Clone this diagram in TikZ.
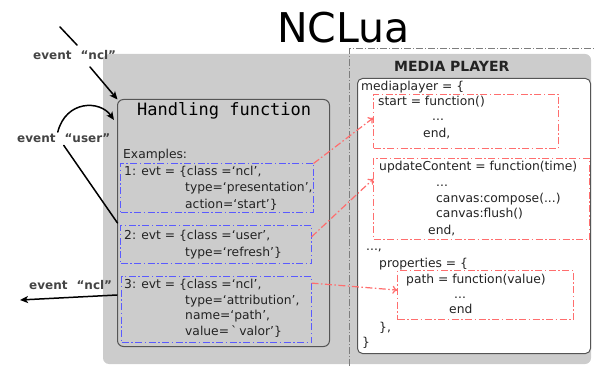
\documentclass[tikz,border=0pt]{standalone}
\usepackage{fontspec}
\setmainfont{DejaVu Sans}
\setmonofont{DejaVu Sans Mono}
\usetikzlibrary{
arrows.meta,
calc,
}

\definecolor{bggray}{RGB}{204,204,204}
\definecolor{framegray}{RGB}{125,125,125}
\definecolor{boxgray}{RGB}{85,85,85}
\definecolor{exblue}{RGB}{90,90,255}
\definecolor{fnred}{RGB}{255,110,110}
\definecolor{codegray}{RGB}{35,35,35}

\tikzset{
  code/.style={anchor=base west, inner sep=0pt, text=codegray, font=\fontsize{12.3}{15}\selectfont},
  evt/.style={anchor=base west, inner sep=2pt, text=codegray!85, font=\bfseries\fontsize{12}{15}\selectfont},
  dashdot/.style={line width=1.5pt, dash pattern=on 7pt off 2.5pt on 1.5pt off 2.5pt},
  exbox/.style={draw=exblue, dashdot, anchor=north west, inner sep=0pt, outer sep=0pt},
  fnbox/.style={draw=fnred, dashdot, anchor=north west, inner sep=0pt, outer sep=0pt},
  link/.style={-{To[length=5pt,width=8pt]}, fnred, dashdot, line width=1.2pt},
  evtline/.style={black, line width=1.5pt, line cap=round},
  evtarrow/.style={evtline, -{Stealth[length=8pt,width=7pt,inset=2pt]}},
}

\begin{document}
\begin{tikzpicture}[x=1pt, y=-1pt]
			\useasboundingbox (0,0) rectangle (594,366);

			% Define coordinates
			\coordinate (nclsrc) at (60,27);
			\coordinate (ncltop) at (77,45);
			\coordinate (nclbot) at (90,67);
			\coordinate (userin) at (114,120);
			\coordinate (nclout) at (117,295);
			\coordinate (nclend) at (20,300);

			% Gray area and the dashed frame of the player
			\fill[bggray, rounded corners=6pt] (103,54) rectangle (591,364);
			\draw[framegray, line width=0.7pt, dash pattern=on 7pt off 2pt on 1pt off 2pt]
				(349.5,366) -- (349.5,48.5) -- (594,48.5);

			\node[font=\fontsize{41}{41}\selectfont, anchor=base west, inner sep=0pt] (title) at (277,43) {NCLua};

			% Handling function
			\node[draw=boxgray, fill=bggray, line width=1pt, rounded corners=6pt, anchor=north west,
				minimum width=212pt, minimum height=247pt, inner sep=0pt, outer sep=0pt] (hf) at (117.5,99.5) {};
			\node[anchor=base west, inner sep=0pt, font=\ttfamily\fontsize{17}{17}\selectfont] (hftitle) at (137,116) {Handling function};
			\node[code] (exhead) at (123,159) {Examples:};

			\node[exbox, minimum width=193pt, minimum height=49pt] (ex1) at (120.5,163.5) {};
			\node[exbox, minimum width=191pt, minimum height=38pt] (ex2) at (120.5,225.5) {};
			\node[exbox, minimum width=190pt, minimum height=66pt] (ex3) at (121.5,276.5) {};

			\node[code] (e1a) at (124,176) {1: evt = \{class =‘ncl’,};
			\node[code] (e1b) at (185,192) {type=‘presentation’,};
			\node[code] (e1c) at (185,208) {action=‘start’\}};
			\node[code] (e2a) at (124,240) {2: evt = \{class =‘user’,};
			\node[code] (e2b) at (185,256) {type=‘refresh’\}};
			\node[code] (e3a) at (124,288) {3: evt = \{class =‘ncl’,};
			\node[code] (e3b) at (185,304) {type=‘attribution’,};
			\node[code] (e3c) at (185,319) {name=‘path’,};
			\node[code] (e3d) at (185,335) {value=\,\textasciigrave\,valor’\}};

			% Media player
			\node[font=\bfseries\fontsize{14}{15}\selectfont, anchor=base west, inner sep=0pt, text=codegray] (mptitle) at (394,72) {MEDIA PLAYER};
			\node[draw=boxgray, fill=white, line width=1pt, rounded corners=5pt, anchor=north west,
				minimum width=233pt, minimum height=275pt, inner sep=0pt, outer sep=0pt] (mp) at (357.5,78.5) {};

			\node[fnbox, minimum width=185pt, minimum height=54pt] (st) at (373.5,94.5) {};
			\node[fnbox, minimum width=216pt, minimum height=81pt] (uc) at (373.5,158.5) {};
			\node[fnbox, minimum width=176pt, minimum height=49pt] (pv) at (397.5,270.5) {};

			\node[code] (mp0) at (361,91) {mediaplayer = \{};
			\node[code] (st1) at (378,106) {start = function()};
			\node[code] (st2) at (432,121) {...};
			\node[code] (st3) at (423,138) {end,};
			\node[code] (uc1) at (379,171) {updateContent = function(time)};
			\node[code] (uc2) at (436,187) {...};
			\node[code] (uc3) at (436,203) {canvas:compose(...)};
			\node[code] (uc4) at (436,218) {canvas:flush()};
			\node[code] (uc5) at (428,234) {end,};
			\node[code] (mp1) at (366,250) {...,};
			\node[code] (pr0) at (379,267) {properties = \{};
			\node[code] (pv1) at (406,283) {path = function(value)};
			\node[code] (pv2) at (454,298) {...};
			\node[code] (pv3) at (449,313) {end};
			\node[code] (pr1) at (379,331) {\},};
			\node[code] (mp2) at (362,346) {\}};

			% Events in and out
			\node[evt] (evtnclin) at (31,60) {event\hspace{9pt}“ncl”};
			\node[evt] (evtuser) at (15,143) {event\hspace{9pt}“user”};
			\node[evt] (evtnclout) at (27,289) {event\hspace{9pt}“ncl”};

			\draw[evtline] (nclsrc) -- (ncltop);
			\draw[evtarrow] (nclbot) -- (hf.north west);
			\draw[evtarrow] ([xshift=-6pt]evtuser.north) .. controls (66,100) and (100,100) .. (userin);
			\draw[evtline] (evtuser.south) -- (hf.west);
			\draw[evtarrow] (nclout) -- (nclend);

			% Examples to the functions they call
			\draw[link] (ex1.north east) -- ($(st.north west)!0.43!(st.south west)$);
			\draw[link] ($(ex2.north east)!0.3!(ex2.south east)$) -- ($(uc.north west)!0.25!(uc.south west)$);
			\draw[link] ($(ex3.north east)!0.1!(ex3.south east)$) -- ($(pv.north west)!0.4!(pv.south west)$);

		\end{tikzpicture}
\end{document}
